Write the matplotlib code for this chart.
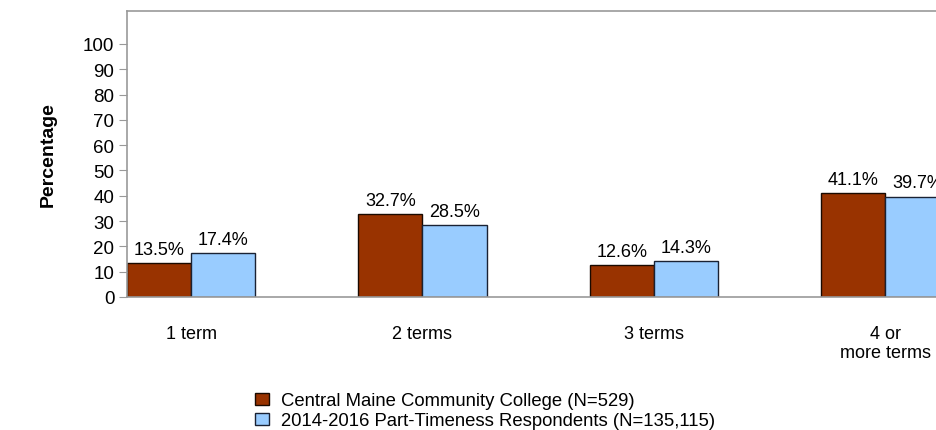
import numpy as np
import matplotlib.pyplot as plt

plt.rcParams['font.family'] = ['Liberation Sans', 'DejaVu Sans']

categories = ['1 term', '2 terms', '3 terms', '4 or\nmore terms']
college = [13.5, 32.7, 12.6, 41.1]
national = [17.4, 28.5, 14.3, 39.7]
series_names = ['Central Maine Community College (N=529)',
                '2014-2016 Part-Timeness Respondents (N=135,115)']

fig = plt.figure(figsize=(9.37, 4.31), dpi=100)
ax = fig.add_axes([127/937, 133/431, 874/937, 286/431])

x = np.arange(len(categories))
w = 0.277
b1 = ax.bar(x - w/2, college, w, color='#993300', edgecolor='#1a0a00', linewidth=1,
            label=series_names[0])
b2 = ax.bar(x + w/2, national, w, color='#99CCFF', edgecolor='#1a2233', linewidth=1,
            label=series_names[1])

for bars in (b1, b2):
    for r in bars:
        ax.text(r.get_x() + r.get_width()/2, r.get_height() + 2.0, f'{r.get_height():.1f}%',
                ha='center', va='bottom', fontsize=13)

ax.set_xlim(-w, 3.5)
ax.set_ylim(0, 113)
ax.set_yticks(range(0, 101, 10))
ax.set_xticks(x)
ax.set_xticklabels(categories, fontsize=13, linespacing=1.15)
ax.tick_params(axis='x', length=0, pad=20)
ax.tick_params(axis='y', length=6, color='#999999', labelsize=13.5, pad=3)
for s in ['left', 'top', 'bottom']:
    ax.spines[s].set_color('#999999')
    ax.spines[s].set_linewidth(1.2)
ax.spines['right'].set_visible(False)
ax.set_ylabel('Percentage', fontsize=14, fontweight='bold', labelpad=19)

fig.legend(handles=[b1, b2], loc='upper left', bbox_to_anchor=(248/937, 1 - 386/431),
           frameon=False, fontsize=13.3, handlelength=0.75, handleheight=0.6,
           handletextpad=0.65, labelspacing=0.15, borderaxespad=0)

fig.savefig('out.png', dpi=100)
